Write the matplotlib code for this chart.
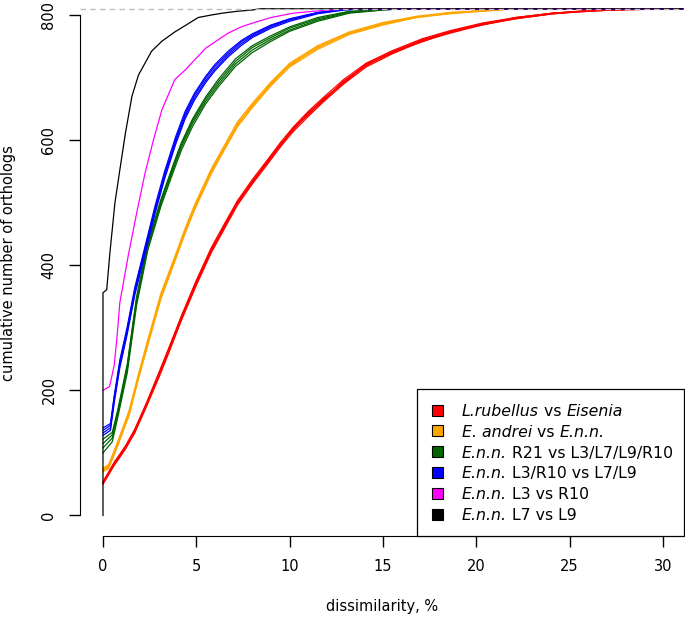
import matplotlib
matplotlib.use('Agg')
import matplotlib.pyplot as plt
from matplotlib.patches import Rectangle

TOTAL = 810

# L.rubellus vs Eisenia
red_x = [0, 0.6, 1.2, 1.7, 2.3, 3.0, 3.5, 4.2, 5.0, 5.8, 6.5, 7.2, 8.0, 8.8, 9.5, 10.2, 11.0,
         11.8, 12.9, 14.1, 15.5, 17.1, 18.6, 20.3, 22.1, 24.1, 26.0, 28.0, 30.0]
red_reps = [
    [52, 82, 108, 135, 175, 225, 262, 315, 372, 424, 462, 500, 533, 565, 592, 618, 642, 664, 693, 720, 740, 760, 773, 785, 795, 803, 807, 809, 810],
    [50, 80, 106, 132, 172, 221, 258, 312, 368, 420, 458, 496, 530, 561, 589, 614, 638, 661, 690, 717, 738, 758, 771, 784, 794, 802, 806, 809, 810],
    [54, 85, 111, 138, 178, 229, 266, 319, 376, 428, 466, 503, 537, 568, 596, 621, 646, 668, 697, 723, 743, 762, 775, 787, 796, 803, 807, 809, 810],
    [51, 83, 109, 134, 177, 224, 264, 316, 370, 426, 460, 502, 531, 566, 590, 620, 640, 665, 692, 722, 739, 761, 772, 786, 795, 802, 807, 809, 810],
    [53, 81, 107, 136, 174, 227, 260, 318, 374, 422, 464, 498, 535, 563, 594, 616, 644, 662, 695, 719, 742, 759, 774, 784, 796, 803, 806, 809, 810],
    [52, 84, 110, 133, 176, 223, 263, 313, 371, 425, 461, 499, 532, 567, 591, 619, 643, 666, 691, 721, 741, 757, 773, 785, 794, 802, 807, 808, 810],
]

# E. andrei vs E.n.n.
orange_x = [0, 0.3, 0.8, 1.4, 1.9, 2.4, 3.1, 3.9, 4.4, 4.9, 5.8, 6.4, 7.2, 8.0, 9.0, 10.0,
            11.5, 13.2, 15.0, 16.8, 18.6, 20.3, 22.0]
orange_reps = [
    [73, 78, 116, 164, 222, 276, 350, 414, 455, 492, 550, 582, 625, 655, 690, 720, 748, 771, 786, 797, 803, 807, 810],
    [70, 75, 112, 160, 218, 272, 346, 410, 451, 488, 546, 579, 621, 652, 687, 717, 745, 769, 784, 796, 802, 806, 810],
    [76, 81, 119, 168, 226, 281, 355, 418, 459, 496, 554, 586, 629, 659, 693, 723, 751, 773, 788, 798, 804, 807, 810],
    [72, 77, 114, 166, 220, 279, 348, 416, 453, 494, 548, 584, 623, 657, 688, 722, 747, 772, 785, 797, 803, 807, 810],
    [74, 79, 117, 162, 224, 274, 352, 412, 457, 490, 552, 580, 627, 653, 692, 718, 750, 770, 787, 796, 804, 806, 810],
]

# E.n.n. R21 vs L3/L7/L9/R10
green_x = [0, 0.5, 0.8, 1.3, 1.8, 2.4, 3.1, 3.8, 4.2, 4.8, 5.5, 6.2, 7.1, 8.0, 9.0, 10.0,
           11.5, 13.2, 15.0, 16.0]
green_reps = [
    [100, 118, 158, 228, 336, 424, 494, 552, 584, 622, 658, 686, 718, 740, 758, 774, 790, 803, 808, 810],
    [108, 124, 163, 234, 342, 429, 498, 557, 589, 627, 662, 690, 722, 744, 761, 776, 792, 804, 808, 810],
    [115, 129, 167, 238, 346, 433, 502, 561, 593, 631, 666, 694, 726, 748, 764, 779, 794, 805, 809, 810],
    [122, 133, 170, 242, 350, 436, 505, 564, 596, 634, 669, 698, 730, 751, 767, 781, 796, 806, 809, 810],
]

# E.n.n. L3/R10 vs L7/L9
blue_x = [0, 0.4, 0.6, 0.9, 1.3, 1.7, 2.3, 2.8, 3.3, 3.9, 4.4, 4.9, 5.5, 6.0, 6.7, 7.4, 8.0,
          9.0, 10.0, 11.5, 12.9, 14.0]
blue_reps = [
    [128, 136, 180, 236, 290, 352, 424, 484, 538, 594, 634, 664, 692, 711, 733, 751, 764, 779, 790, 802, 808, 810],
    [132, 140, 184, 240, 294, 356, 428, 488, 542, 598, 638, 668, 695, 714, 736, 754, 766, 781, 792, 803, 808, 810],
    [136, 144, 188, 244, 298, 360, 432, 492, 546, 602, 642, 672, 699, 718, 739, 757, 768, 783, 793, 804, 809, 810],
    [140, 147, 191, 248, 302, 364, 436, 496, 550, 606, 646, 675, 702, 721, 742, 759, 770, 784, 794, 804, 809, 810],
]

# E.n.n. L3 vs R10
magenta_x = [0, 0.35, 0.6, 0.75, 0.9, 1.35, 1.8, 2.25, 2.7, 3.15, 3.85, 4.4, 4.9, 5.5, 6.0,
             6.7, 7.4, 8.0, 9.0, 10.2, 12.0, 13.0]
magenta_y = [200, 206, 240, 285, 340, 415, 483, 547, 600, 648, 697, 712, 728, 747, 757, 771,
             781, 787, 796, 803, 808, 810]

# E.n.n. L7 vs L9
black_x = [0, 0, 0.2, 0.37, 0.64, 0.9, 1.2, 1.55, 1.9, 2.25, 2.6, 3.15, 3.85, 4.4, 5.1, 5.8,
           6.4, 7.2, 8.0, 8.4]
black_y = [0, 356, 361, 420, 500, 552, 611, 670, 704, 723, 742, 758, 773, 783, 796, 800,
           803, 806, 808, 810]

# legend entries as (text, italic) pieces
legend_pieces = [
    [('L.rubellus', True), (' vs ', False), ('Eisenia', True)],
    [('E. andrei', True), (' vs ', False), ('E.n.n.', True)],
    [('E.n.n.', True), (' R21 vs L3/L7/L9/R10', False)],
    [('E.n.n.', True), (' L3/R10 vs L7/L9', False)],
    [('E.n.n.', True), (' L3 vs R10', False)],
    [('E.n.n.', True), (' L7 vs L9', False)],
]
colors = ['#FF0000', '#FFA500', '#006400', '#0000FF', '#FF00FF', '#000000']

plt.rcParams['font.family'] = ['DejaVu Sans']

W, H = 685, 619
fig = plt.figure(figsize=(W / 100, H / 100), dpi=100)
ax = fig.add_axes([80 / W, (H - 535.7) / H, 604 / W, 535.7 / H])
ax.set_xlim(-1.232, 31.125)
ax.set_ylim(-32.3, 824)

XMAX = 40
groups = [(red_x, red_reps), (orange_x, orange_reps), (green_x, green_reps),
          (blue_x, blue_reps), (magenta_x, [magenta_y]), (black_x, [black_y])]
for (gx, reps), col in zip(groups, colors):
    for ry in reps:
        ax.plot(list(gx) + [XMAX], list(ry) + [TOTAL], color=col, lw=0.9)

ax.axhline(TOTAL, color='#BEBEBE', lw=1.0, dashes=(4, 3))

for s in ['top', 'right']:
    ax.spines[s].set_visible(False)
ax.spines['left'].set_bounds(0, 800)
ax.spines['bottom'].set_bounds(0, 30)
ax.set_xticks([0, 5, 10, 15, 20, 25, 30])
ax.set_yticks([0, 200, 400, 600, 800])
ax.tick_params(direction='out', length=8, width=1.0, labelsize=10.5, pad=9)
plt.setp(ax.get_yticklabels(), rotation=90, va='center')

fig.text(382 / W, 1 - 607 / H, 'dissimilarity, %', ha='center', va='center', fontsize=10.5)
fig.text(9 / W, 1 - 263 / H, 'cumulative number of orthologs', ha='center', va='center',
         rotation=90, fontsize=10.5)

# legend drawn by hand (mixed italic / upright text)
box_l, box_t, box_r, box_b = 417, 389, 684, 535.7
fig.patches.append(Rectangle((box_l / W, 1 - box_b / H), (box_r - box_l) / W,
                             (box_b - box_t) / H, transform=fig.transFigure,
                             facecolor='white', edgecolor='black', lw=0.9, zorder=5))
renderer = fig.canvas.get_renderer()
row_h = 20.8
for i, (pieces, col) in enumerate(zip(legend_pieces, colors)):
    yc = 410 + i * row_h
    sq = 11
    fig.patches.append(Rectangle(((438 - sq / 2) / W, 1 - (yc + sq / 2) / H), sq / W, sq / H,
                                 transform=fig.transFigure, facecolor=col,
                                 edgecolor='black', lw=0.8, zorder=6))
    xp = 462
    for txt, it in pieces:
        t = fig.text(xp / W, 1 - yc / H, txt, fontsize=11.3, va='center_baseline',
                     style='italic' if it else 'normal', zorder=7)
        xp = t.get_window_extent(renderer).x1

fig.savefig('out.png', dpi=100)
